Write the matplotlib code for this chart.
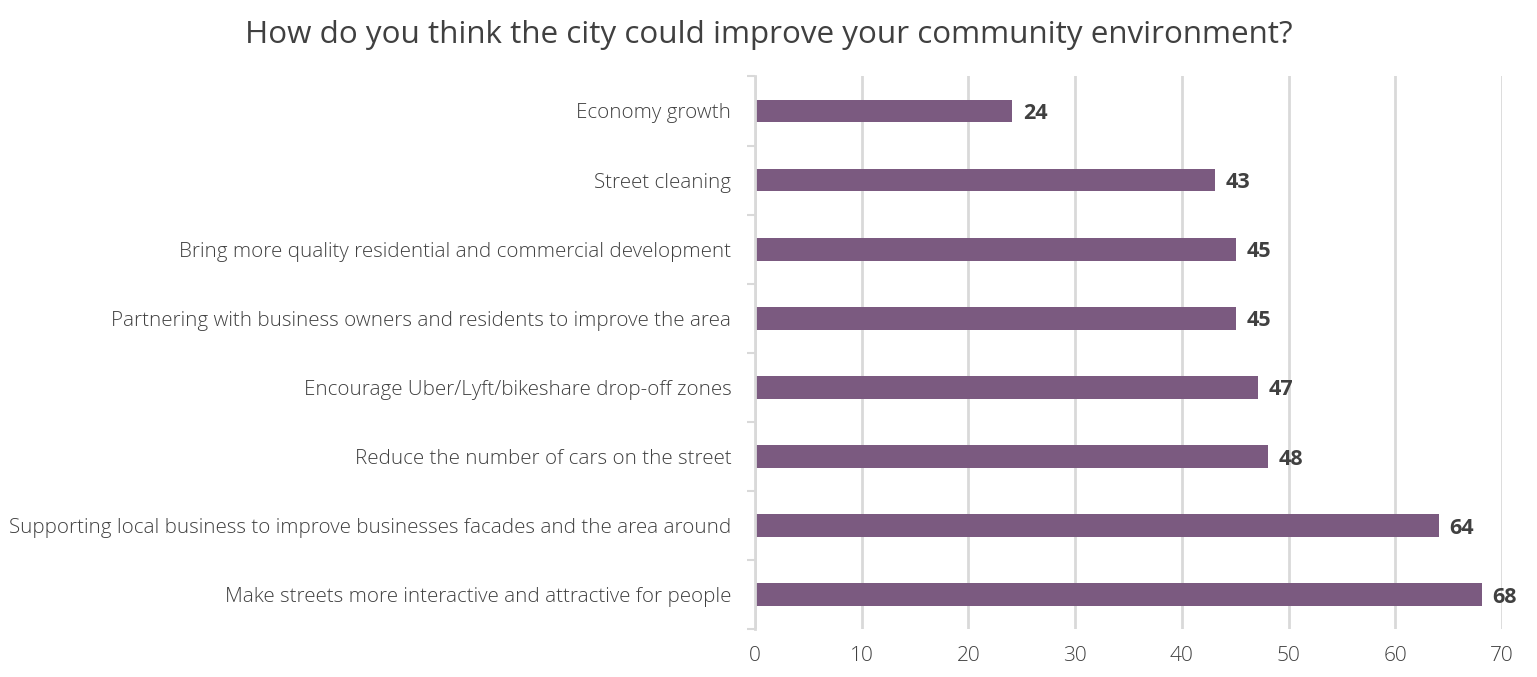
import matplotlib.pyplot as plt

categories = [
    "Economy growth",
    "Street cleaning",
    "Bring more quality residential and commercial development",
    "Partnering with business owners and residents to improve the area",
    "Encourage Uber/Lyft/bikeshare drop-off zones",
    "Reduce the number of cars on the street",
    "Supporting local business to improve businesses facades and the area around",
    "Make streets more interactive and attractive for people",
]
values = [24, 43, 45, 45, 47, 48, 64, 68]
xticks = [0, 10, 20, 30, 40, 50, 60, 70]

bar_color = "#7b5a80"
text_color = "#404040"
grid_color = "#d9d9d9"

plt.rcParams["font.family"] = ["Open Sans", "DejaVu Sans"]

fig = plt.figure(figsize=(15.37, 6.77), dpi=100)
ax = fig.add_axes([0.4912, 0.0702, 0.486, 0.817])

ypos = list(range(len(categories)))
ax.barh(ypos, values, height=0.33, color=bar_color, left=0.1)
for y, v in zip(ypos, values):
    ax.text(v + 1.1, y, str(v), va="center_baseline", ha="left", fontsize=15.5,
            fontweight="bold", color=text_color)

ax.set_ylim(len(categories) - 0.5, -0.5)
ax.set_xlim(0, 70)
ax.set_xticks(xticks)
ax.set_xticklabels([str(t) for t in xticks])
ax.set_yticks(ypos)
ax.set_yticklabels(categories, fontweight="light")
ax.set_yticks([i - 0.5 for i in range(len(categories) + 1)], minor=True)

ax.tick_params(axis="y", which="major", length=0, pad=17, labelsize=14.75,
               labelcolor=text_color)
ax.tick_params(axis="y", which="minor", length=6, width=1.5, color=grid_color)
ax.tick_params(axis="x", length=0, pad=12, labelsize=15, labelcolor=text_color)
for lab in ax.get_xticklabels():
    lab.set_fontweight("light")

ax.xaxis.grid(True, color=grid_color, linewidth=2)
ax.set_axisbelow(True)
for s in ["top", "right", "bottom"]:
    ax.spines[s].set_visible(False)
ax.spines["left"].set_color(grid_color)
ax.spines["left"].set_linewidth(2)

fig.suptitle("How do you think the city could improve your community environment?",
             x=0.5, y=0.97, fontsize=22.6, color=text_color)

fig.savefig("out.png", dpi=100, facecolor="white")
